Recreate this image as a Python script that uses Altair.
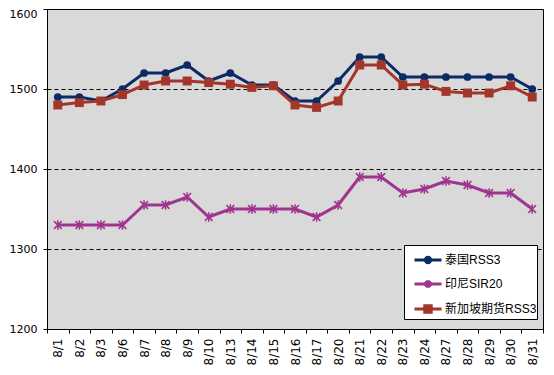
import altair as alt
import pandas as pd

dates = ["8/1", "8/2", "8/3", "8/6", "8/7", "8/8", "8/9", "8/10", "8/13", "8/14", "8/15",
         "8/16", "8/17", "8/20", "8/21", "8/22", "8/23", "8/24", "8/27", "8/28", "8/29",
         "8/30", "8/31"]
thai = [1490, 1490, 1485, 1500, 1520, 1520, 1530, 1510, 1520, 1505, 1505, 1485, 1485,
        1510, 1540, 1540, 1515, 1515, 1515, 1515, 1515, 1515, 1500]
indo = [1330, 1330, 1330, 1330, 1355, 1355, 1365, 1340, 1350, 1350, 1350, 1350, 1340,
        1355, 1390, 1390, 1370, 1375, 1385, 1380, 1370, 1370, 1350]
sgx = [1480, 1483, 1485, 1493, 1505, 1510, 1510, 1508, 1506, 1502, 1504, 1480, 1477,
       1485, 1530, 1530, 1505, 1506, 1497, 1495, 1495, 1504, 1490]

series_names = ["泰国RSS3", "印尼SIR20", "新加坡期货RSS3"]
series_colors = ["#0c2a66", "#a0358f", "#a3352a"]
y_ticks = [1200, 1300, 1400, 1500, 1600]

rows = []
for name, vals in zip(series_names, [thai, indo, sgx]):
    for d, v in zip(dates, vals):
        rows.append({"date": d, "value": v, "series": name})
df = pd.DataFrame(rows)

FONT = "DejaVu Sans, Noto Sans CJK SC"
LFONT = "Liberation Sans, Noto Sans CJK SC"

x_enc = alt.X("date:N", sort=dates, bandPosition=0.5,
              scale=alt.Scale(type="band", domain=dates, paddingInner=0, paddingOuter=0),
              axis=alt.Axis(title=None, labelAngle=270, tickBand="extent", tickSize=4,
                            tickColor="#000", domainColor="#000", labelPadding=5,
                            labelFontSize=12, labelColor="#000", labelFont=FONT))
y_enc = alt.Y("value:Q",
              scale=alt.Scale(domain=[1200, 1600], nice=False, zero=False),
              axis=alt.Axis(title=None, values=y_ticks, format="d", grid=True,
                            gridColor="#000", gridDash=[4, 3], gridWidth=1, tickSize=4,
                            tickColor="#000", domainColor="#000", labelPadding=6,
                            labelFontSize=11, labelColor="#000", labelFont=FONT,
                            labelOffset={"condition": {"test": "datum.value == 1600",
                                                       "value": 5},
                                         "value": 0}))

base = alt.Chart(df)

marker_shapes = ["circle", "M-1,-1L1,1M-1,1L1,-1M0,-1.25L0,1.25", "square"]
marker_sizes = [60, 60, 80]
marker_filled = [True, False, True]

layers = []
for name, col in zip(series_names, series_colors):
    layers.append(
        base.transform_filter(alt.datum.series == name)
        .mark_line(strokeWidth=3, color=col)
        .encode(x=x_enc, y=y_enc)
    )
for name, col, shp, sz, fl in zip(series_names, series_colors, marker_shapes,
                                  marker_sizes, marker_filled):
    layers.append(
        base.transform_filter(alt.datum.series == name)
        .mark_point(shape=shp, filled=fl, size=sz, color=col, opacity=1,
                    strokeWidth=1.5)
        .encode(x=x_enc, y=y_enc)
    )

legend_shapes = [
    "M-1,0L1,0M-0.2,0A0.2,0.2,0,1,0,0.2,0A0.2,0.2,0,1,0,-0.2,0Z",
    "M-1,0L1,0M-0.2,-0.2L0.2,0.2M-0.2,0.2L0.2,-0.2M0,-0.27L0,0.27",
    "M-1,0L1,0M-0.24,-0.24L0.24,-0.24L0.24,0.24L-0.24,0.24Z",
]

legend_layer = base.transform_filter("false").mark_point(
    filled=True, size=729, strokeWidth=3, opacity=1
).encode(
    x=x_enc, y=y_enc,
    fill=alt.Fill("series:N", scale=alt.Scale(domain=series_names, range=series_colors),
                  title=None),
    stroke=alt.Stroke("series:N", scale=alt.Scale(domain=series_names, range=series_colors),
                      title=None),
    shape=alt.Shape("series:N", scale=alt.Scale(domain=series_names, range=legend_shapes),
                    title=None,
                    legend=alt.Legend(orient="none", legendX=357, legendY=236,
                                      fillColor="#ffffff", strokeColor="#000",
                                      padding=0, rowPadding=-5, symbolSize=729,
                                      symbolOffset=9, symbolStrokeWidth=3,
                                      labelFontSize=12, labelFont=LFONT,
                                      labelColor="#000", labelOffset=2,
                                      symbolOpacity=1)),
)
layers.append(legend_layer)

chart = alt.layer(*layers).properties(
    width=496, height=320,
    autosize=alt.AutoSizeParams(type="none"),
    padding={"left": 39, "top": 1, "right": 3, "bottom": 38},
    background="#ffffff",
).configure_view(
    fill="#d9d9d9", stroke="#000", strokeWidth=1
)

chart.save("out.html", embed_options={"renderer": "svg", "actions": False})
